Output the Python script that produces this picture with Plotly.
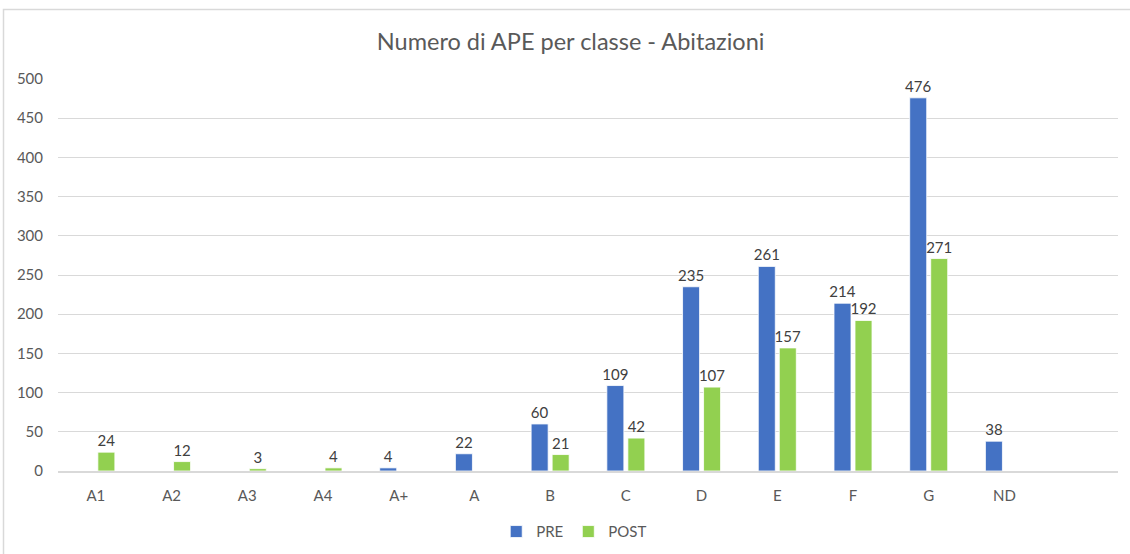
import plotly.graph_objects as go

categories = ["A1", "A2", "A3", "A4", "A+", "A", "B", "C", "D", "E", "F", "G", "ND", " "]
pre_values = [None, None, None, None, 4, 22, 60, 109, 235, 261, 214, 476, 38, None]
post_values = [24, 12, 3, 4, None, None, 21, 42, 107, 157, 192, 271, None, None]
y_ticks = [0, 50, 100, 150, 200, 250, 300, 350, 400, 450, 500]

FONT = "Lato, Carlito, Calibri, 'Open Sans', sans-serif"
PRE_COLOR = "#4472C4"
POST_COLOR = "#92D050"

fig = go.Figure()
fig.add_trace(go.Bar(
    name="PRE", x=categories, y=pre_values,
    marker=dict(color=PRE_COLOR, line=dict(color="#ffffff", width=0.8)),
    text=[("" if v is None else str(v)) for v in pre_values],
    textposition="outside", cliponaxis=False, constraintext="none",
    textfont=dict(family=FONT, size=15, color="#404040"),
))
fig.add_trace(go.Bar(
    name="POST", x=categories, y=post_values,
    marker=dict(color=POST_COLOR, line=dict(color="#ffffff", width=0.8)),
    text=[("" if v is None else str(v)) for v in post_values],
    textposition="outside", cliponaxis=False, constraintext="none",
    textfont=dict(family=FONT, size=15, color="#404040"),
))

fig.update_layout(
    width=1130, height=554,
    margin=dict(l=58, r=12, t=79, b=83, autoexpand=False),
    paper_bgcolor="white", plot_bgcolor="white",
    barmode="group", bargap=0.445, bargroupgap=0.19,
    title=dict(text="Numero di APE per classe - Abitazioni", x=0.505, xanchor="center",
               y=0.925, yanchor="middle", automargin=False,
               font=dict(family=FONT, size=23.5, color="#595959")),
    font=dict(family=FONT, size=14, color="#595959"),
    legend=dict(orientation="h", x=0.487, xanchor="center", y=-0.113, yanchor="top",
                font=dict(family=FONT, size=15, color="#595959"),
                itemwidth=30, traceorder="normal"),
    xaxis=dict(type="category", categoryorder="array", categoryarray=categories,
               showgrid=False, showline=True, linecolor="#d9d9d9", linewidth=1.5,
               ticks="", tickfont=dict(family=FONT, size=15, color="#595959"),
               ticklabelstandoff=10, zeroline=False, automargin=False),
    yaxis=dict(range=[0, 500], tickvals=y_ticks, showgrid=True, gridcolor="#d9d9d9",
               gridwidth=1.2, zeroline=False, showline=False, ticks="",
               tickfont=dict(family=FONT, size=15, color="#595959"), ticklabelstandoff=14,
               automargin=False),
    shapes=[dict(type="rect", xref="paper", yref="paper",
                 x0=(3.5 - 58) / 1060, x1=1.2, y0=-0.5, y1=(471 - 9.5) / 392,
                 line=dict(color="#d9d9d9", width=1.5), fillcolor="rgba(0,0,0,0)", layer="below")],
)

fig.write_html("out.html", config={"displayModeBar": False},
               post_script="document.body.style.margin='0';document.body.style.overflow='hidden';")
